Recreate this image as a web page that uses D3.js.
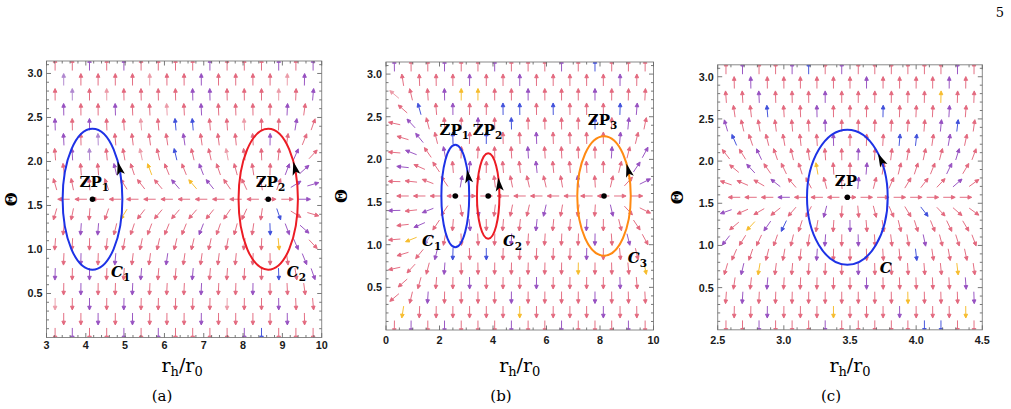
<!DOCTYPE html>
<html>
<head>
<meta charset="utf-8">
<script src="https://cdn.jsdelivr.net/npm/d3@7/dist/d3.min.js"></script>
<style>
body { margin: 0; background: #fff; }
svg { display: block; }
</style>
</head>
<body>
<div id="chart"></div>
<script>
// sample rows of the field (hex grid), top row first
var rowTheta = [3.1012, 2.9311, 2.7611, 2.5910, 2.4210, 2.2510, 2.0809, 1.9109, 1.7408, 1.5708,
                1.4008, 1.2307, 1.0607, 0.8906, 0.7206, 0.5506, 0.3805, 0.2105, 0.0404];
// theta component on each row (up = positive)
var phiTheta = [611, 22.5, 6.76, 3.11, 1.73, 1.04, 0.641, 0.375, 0.174, 0,
                -0.174, -0.375, -0.641, -1.04, -1.73, -3.11, -6.76, -22.5, -611];

// r component read along the half-step sample columns (31 per panel)
var phiR_a = [-0.05, -0.045, -0.035, -0.025, -0.012, -0.03, -0.06, -0.09, -0.11, -0.125, -0.135, -0.14, -0.145, -0.15, -0.15, -0.15,
              -0.15, -0.145, -0.14, -0.13, -0.12, -0.1, -0.08, -0.055, -0.025, 0.012, 0.06, 0.14, 0.28, 0.42, 0.6];
var phiR_b = [-8, -3.5, -1.6, -0.85, -0.45, -0.25, -0.12, -0.03, 0.03, 0.04, 0.03, 0.005, -0.02, -0.03, -0.035, -0.04,
              -0.04, -0.04, -0.04, -0.035, -0.03, -0.03, -0.025, -0.02, -0.01, -0.002, 0.04, 0.09, 0.16, 0.25, 0.35];
var phiR_c = [-0.5, -0.45, -0.4, -0.35, -0.3, -0.26, -0.22, -0.18, -0.15, -0.12, -0.09, -0.065, -0.045, -0.025, -0.01, 0.003,
              0.015, 0.03, 0.045, 0.06, 0.075, 0.09, 0.105, 0.12, 0.135, 0.15, 0.165, 0.18, 0.2, 0.22, 0.24];

// arrow colour codes per row (r red, p pink, v purple, l lilac, b blue, y yellow)
var colors_a = ["rrvrvrrrrvrrrvrv", "lrrrrprrvrrrrpv", "rlrprrrrvvrrrprv", "vrrvrrprvrrrrvr", "vrvrrprbbrrprrvr",
                "vrlrrrrvrrrrvrr", "rvlrrprbrrprrrvr", "rrrvryrrvrrrrvv", "rrrrrrrvyvrrrrvv", "rrrrrrrrrrrrrrv",
                "rrrryrrrrrrrrbrr", "rvvrrrrrvrrrbvv", "rrrrrrrrrrrrryvr", "rvrvrrvrrrrrrrv", "vrvrrvrrvrrrrbrv",
                "rvrrvrrrvrrvrrr", "prvrvrrrrrprrvrr", "rrvrvrrrvrrrrvr", "rvrrvrvrrrrvbrrr"];
var colors_b = ["vrrvrrvrrrvrbrrr", "rrrrvrrvrrrrrvr", "prrvyyrrvrrrvrrr", "rbrvrrbbrbrrrbv", "rvrrrvrbrrrrbrvr",
                "rvrbrbrrvrrrrvr", "rvrvrrrrvrrrrvrv", "vrrrvrrrvrrrrrv", "rrrrvrrrrrrvrrrv", "rrrrrrrrrrrrrrr",
                "vrvrrvrrrvrrrvrr", "rvrrvrrrvrrvrrr", "rylrrrrvrrrrvrvr", "rrvbrbrrrrrvrrr", "rrrvrrrrrrryrrry",
                "rrrrvrrrvrrrrvr", "rrvrrrrvrrrrvrrr", "yrrrrrryrrrrvrr", "rvrvrrrvrrvrrrvr"];
var colors_c = ["rvrrvbrvrrrrrrvr", "rvrrrrrrvrrrrvr", "rrvrrrvrrrrrryrr", "rrbrrvrrrbrrrvr", "vrrrrrvrrrrrrvbr",
                "brrrrrvrrrbbrvr", "rrvrrrrrvrrrrrvr", "rvrrryrrvrrrrvr", "rrrvrrrrvrrrrrvr", "rrrvrrrrrrrrrrr",
                "vrrrrrvrrrrrbrrr", "ryvbrrrvrrrrrrr", "vrrrrrvrvrrrvrrr", "rrrrrvrrrrrbrrr", "rvyrrrrrvrrrrryr",
                "rrvrrrrrvrrrrrv", "rvrrrrrrrrryrrrv", "rrvrrryrrrvrrry", "rrvrrrvrrrrrbbrr"];

// zero points (r_h/r_0) and the contour half widths [rx, ry]
var zeros_a = [4.17, 8.64];
var zeros_b = [2.59, 3.82, 8.15];
var zeros_c = [3.48];
var radii_a = [[0.76, 0.80], [0.755, 0.80]];
var radii_b = [[0.52, 0.60], [0.42, 0.50], [1.0, 0.70]];
var radii_c = [[0.305, 0.80]];

// labels: [main, subscript, r_h/r_0, theta]
var zpLabels_a = [["ZP", "1", 3.84, 1.71], ["ZP", "2", 8.32, 1.71]];
var zpLabels_b = [["ZP", "1", 2.0, 2.29], ["ZP", "2", 3.24, 2.29], ["ZP", "3", 7.54, 2.40]];
var zpLabels_c = [["ZP", "", 3.385, 1.705]];
var cLabels_a = [["C", "1", 4.64, 0.69], ["C", "2", 9.11, 0.69]];
var cLabels_b = [["C", "1", 1.35, 0.985], ["C", "2", 4.37, 0.985], ["C", "3", 9.04, 0.79]];
var cLabels_c = [["C", "", 3.725, 0.677]];

var xTicks_a = [3, 4, 5, 6, 7, 8, 9, 10];
var xTicks_b = [0, 2, 4, 6, 8, 10];
var xTicks_c = [2.5, 3.0, 3.5, 4.0, 4.5];
var yTicks = [0.5, 1.0, 1.5, 2.0, 2.5, 3.0];
var captions = ["(a)", "(b)", "(c)"];

var arrowColor = { r: "#df546d", p: "#e98d9c", v: "#8838b8", l: "#a577c9", b: "#2537d6", y: "#f5b30f" };

var panels = [
    { id: "a", dom: [3, 10], left: 46.5, right: 321.7, top: 61, bottom: 337.5, phiR: phiR_a, colors: colors_a,
      zeros: zeros_a, radii: radii_a, zpl: zpLabels_a, cl: cLabels_a, xTicks: xTicks_a, xMinor: 0.2,
      xfmt: d3.format("d"), ringCol: ["#1d32e6", "#ec1c24"], headT: [30, 30],
      tickY: 348.5, thetaX: 11, capX: 162 },
    { id: "b", dom: [0, 10], left: 386, right: 653.5, top: 62, bottom: 330, phiR: phiR_b, colors: colors_b,
      zeros: zeros_b, radii: radii_b, zpl: zpLabels_b, cl: cLabels_b, xTicks: xTicks_b, xMinor: 0.5,
      xfmt: d3.format("d"), ringCol: ["#1d32e6", "#ec1c24", "#ff8a12"], headT: [28, 22, 30],
      tickY: 343.5, thetaX: 341, capX: 501 },
    { id: "c", dom: [2.5, 4.5], left: 717.7, right: 982.3, top: 64.8, bottom: 329.8, phiR: phiR_c, colors: colors_c,
      zeros: zeros_c, radii: radii_c, zpl: zpLabels_c, cl: cLabels_c, xTicks: xTicks_c, xMinor: 0.1,
      xfmt: d3.format(".1f"), ringCol: ["#1d32e6"], headT: [38],
      tickY: 343.5, thetaX: 677, capX: 831 }
];

var width = 1011, height = 409;
var svg = d3.select("#chart").append("svg")
    .attr("width", width)
    .attr("height", height);

svg.append("text")
    .attr("x", 1004).attr("y", 17)
    .attr("text-anchor", "end")
    .style("font-family", "DejaVu Serif")
    .style("font-size", "13px")
    .text("5");

var serif = "'DejaVu Serif', serif";
var sans = "'Liberation Sans', Arial, sans-serif";

function arrowPath(cx, cy, u, v, L, hl, hw) {
    var ang = Math.atan2(-v, u);
    var dx = Math.cos(ang), dy = Math.sin(ang);
    var tx = cx - dx * L / 2, ty = cy - dy * L / 2;
    var hx = cx + dx * L / 2, hy = cy + dy * L / 2;
    var bx = hx - dx * hl, by = hy - dy * hl;
    return "M" + tx + "," + ty + "L" + bx + "," + by +
        "M" + hx + "," + hy + "L" + (bx - dy * hw) + "," + (by + dx * hw) +
        "L" + (bx + dy * hw) + "," + (by - dx * hw) + "Z";
}

panels.forEach(function (p, pi) {
    var x = d3.scaleLinear().domain(p.dom).range([p.left, p.right]);
    var y = d3.scaleLinear().domain([0, Math.PI]).range([p.bottom, p.top]);
    var g = svg.append("g");

    svg.append("clipPath").attr("id", "clip" + p.id)
        .append("rect")
        .attr("x", p.left).attr("y", p.top)
        .attr("width", p.right - p.left).attr("height", p.bottom - p.top);

    // vector field on the staggered grid
    var arrows = [];
    rowTheta.forEach(function (th, r) {
        var full = (r % 2 === 0);
        var n = full ? 16 : 15;
        for (var i = 0; i < n; i++) {
            var m = full ? 2 * i + 1 : 2 * i + 2;
            arrows.push({
                xv: p.dom[0] + (p.dom[1] - p.dom[0]) * m / 32,
                th: th,
                u: p.phiR[m - 1],
                v: phiTheta[r],
                c: p.colors[r].charAt(i) || "r"
            });
        }
    });

    g.append("g")
        .attr("clip-path", "url(#clip" + p.id + ")")
        .selectAll("path")
        .data(arrows)
        .join("path")
        .attr("d", function (d) { return arrowPath(x(d.xv), y(d.th), d.u, d.v, 12, 3.8, 1.8); })
        .attr("fill", function (d) { return arrowColor[d.c]; })
        .attr("stroke", function (d) { return arrowColor[d.c]; })
        .attr("stroke-width", 0.95)
        .attr("opacity", 0.88);

    // frame and ticks
    g.append("rect")
        .attr("x", p.left).attr("y", p.top)
        .attr("width", p.right - p.left).attr("height", p.bottom - p.top)
        .attr("fill", "none").attr("stroke", "#8a8a8a").attr("stroke-width", 1);

    var xMinor = d3.range(p.dom[0], p.dom[1] + 1e-9, p.xMinor);
    var yMinor = d3.range(0.1, Math.PI, 0.1);
    var tk = g.append("g").attr("stroke", "#6a6a6a").attr("stroke-width", 0.9);
    function isMajor(v, list) { return list.some(function (t) { return Math.abs(t - v) < 1e-6; }); }
    xMinor.forEach(function (v) {
        var len = isMajor(v, p.xTicks) ? 4.5 : 2.5;
        tk.append("line").attr("x1", x(v)).attr("x2", x(v)).attr("y1", p.bottom).attr("y2", p.bottom - len);
        tk.append("line").attr("x1", x(v)).attr("x2", x(v)).attr("y1", p.top).attr("y2", p.top + len);
    });
    yMinor.forEach(function (v) {
        var len = isMajor(Math.round(v * 10) / 10, yTicks) ? 4.5 : 2.5;
        tk.append("line").attr("y1", y(v)).attr("y2", y(v)).attr("x1", p.left).attr("x2", p.left + len);
        tk.append("line").attr("y1", y(v)).attr("y2", y(v)).attr("x1", p.right).attr("x2", p.right - len);
    });

    g.append("g").selectAll("text")
        .data(p.xTicks)
        .join("text")
        .attr("x", function (d) { return x(d); })
        .attr("y", p.tickY)
        .attr("text-anchor", "middle")
        .style("font-family", sans).style("font-weight", "bold").style("font-size", "10.8px")
        .attr("fill", "#1a1a1a")
        .text(p.xfmt);

    g.append("g").selectAll("text")
        .data(yTicks)
        .join("text")
        .attr("x", p.left - 4)
        .attr("y", function (d) { return y(d); })
        .attr("dy", "0.36em")
        .attr("text-anchor", "end")
        .style("font-family", sans).style("font-weight", "bold").style("font-size", "10.8px")
        .attr("fill", "#1a1a1a")
        .text(d3.format(".1f"));

    // contours around zero points
    p.zeros.forEach(function (z, i) {
        var cx = x(z), cy = y(Math.PI / 2);
        var rx = x(z + p.radii[i][0]) - cx, ry = cy - y(Math.PI / 2 + p.radii[i][1]);
        g.append("ellipse")
            .attr("cx", cx).attr("cy", cy).attr("rx", rx).attr("ry", ry)
            .attr("fill", "none").attr("stroke", p.ringCol[i]).attr("stroke-width", 2);
        var t = p.headT[i] * Math.PI / 180;
        var hx = cx + rx * Math.cos(t), hy = cy - ry * Math.sin(t);
        var tx = -rx * Math.sin(t), ty = -ry * Math.cos(t);
        var tl = Math.sqrt(tx * tx + ty * ty);
        tx /= tl; ty /= tl;
        var L = 11, W = 4;
        var bx = hx - tx * L, by = hy - ty * L;
        var nx = hx - tx * L * 0.72, ny = hy - ty * L * 0.72;
        g.append("path")
            .attr("d", "M" + (hx + tx * 2.5) + "," + (hy + ty * 2.5) +
                "L" + (bx - ty * W) + "," + (by + tx * W) +
                "L" + nx + "," + ny +
                "L" + (bx + ty * W) + "," + (by - tx * W) + "Z")
            .attr("fill", "#000");
        g.append("circle")
            .attr("cx", cx).attr("cy", cy).attr("r", 2.8)
            .attr("fill", "#000");
    });

    function label(list, italic) {
        list.forEach(function (d) {
            var t = g.append("text")
                .attr("x", x(d[2])).attr("y", y(d[3]))
                .style("font-family", serif).style("font-weight", "bold")
                .style("font-style", italic ? "italic" : "normal")
                .style("font-size", "15px");
            t.append("tspan").text(d[0]);
            if (d[1]) {
                t.append("tspan").attr("dy", 4).style("font-size", "10.5px")
                    .style("font-style", "normal").text(d[1]);
            }
        });
    }
    label(p.zpl, false);
    label(p.cl, true);

    // axis titles
    var xl = g.append("text")
        .attr("x", (p.left + p.right) / 2 - (p.id === "a" ? 2 : 0))
        .attr("y", 371.5)
        .attr("text-anchor", "middle")
        .style("font-family", serif).style("font-size", "19px");
    xl.append("tspan").text("r");
    xl.append("tspan").attr("dy", 4).style("font-size", "13px").text("h");
    xl.append("tspan").attr("dy", -4).text("/r");
    xl.append("tspan").attr("dy", 4).style("font-size", "13px").text("0");

    g.append("text")
        .attr("transform", "translate(" + p.thetaX + "," + y(Math.PI / 2) + ") rotate(-90)")
        .attr("text-anchor", "middle")
        .attr("dy", "0.36em")
        .style("font-family", serif).style("font-weight", "bold").style("font-size", "16px")
        .text("Θ");

    g.append("text")
        .attr("x", p.capX).attr("y", 401)
        .attr("text-anchor", "middle")
        .style("font-family", serif).style("font-size", "15px")
        .text(captions[pi]);
});
</script>
</body>
</html>
